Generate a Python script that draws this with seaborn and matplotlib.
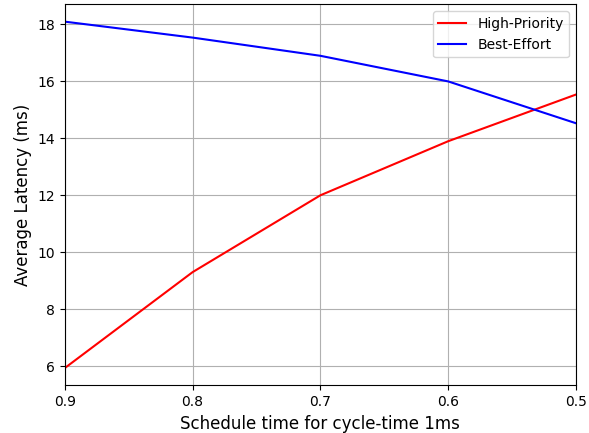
import numpy as np
import pandas as pd
import matplotlib
matplotlib.use("Agg")
import matplotlib.pyplot as plt
import seaborn as sns

schedule = [0.9, 0.8, 0.7, 0.6, 0.5]
high_priority = [5.93, 9.3, 12.0, 13.9, 15.54]
best_effort = [18.1, 17.54, 16.9, 16.0, 14.53]

df = pd.DataFrame({
    "schedule": schedule * 2,
    "latency": high_priority + best_effort,
    "series": ["High-Priority"] * 5 + ["Best-Effort"] * 5,
})

fig, ax = plt.subplots(figsize=(5.89, 4.33), dpi=100)
sns.lineplot(data=df, x="schedule", y="latency", hue="series",
             palette={"High-Priority": "red", "Best-Effort": "blue"}, ax=ax)
ax.set_xlim(0.9, 0.5)
ax.set_xticks(schedule)
ax.grid(True)
ax.set_xlabel("Schedule time for cycle-time 1ms", fontsize=12)
ax.set_ylabel("Average Latency (ms)", fontsize=12)
ax.legend(title=None, loc="upper right")
fig.subplots_adjust(left=0.11, right=0.978, top=0.99, bottom=0.11)
fig.savefig("out.png", dpi=100)
